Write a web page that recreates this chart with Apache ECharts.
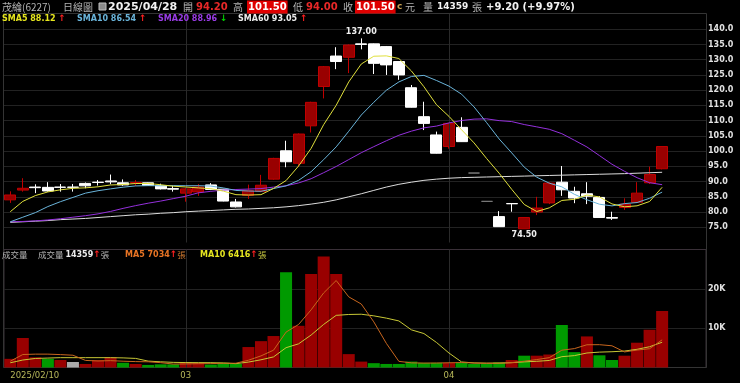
<!DOCTYPE html>
<html><head><meta charset="utf-8">
<script src="https://cdn.jsdelivr.net/npm/echarts@6/dist/echarts.min.js"></script>
<style>html,body{margin:0;padding:0;background:#000;}#c{width:740px;height:383px;}</style>
</head><body><div id="c"></div>
<script>
// ---------------- data ----------------
const dates = [
 '2025/02/10','2025/02/11','2025/02/12','2025/02/13','2025/02/14','2025/02/17','2025/02/18','2025/02/19','2025/02/20','2025/02/21',
 '2025/02/24','2025/02/25','2025/02/26','2025/02/27',
 '2025/03/03','2025/03/04','2025/03/05','2025/03/06','2025/03/07','2025/03/10','2025/03/11','2025/03/12','2025/03/13','2025/03/14',
 '2025/03/17','2025/03/18','2025/03/19','2025/03/20','2025/03/21','2025/03/24','2025/03/25','2025/03/26','2025/03/27','2025/03/28','2025/03/31',
 '2025/04/01','2025/04/02','2025/04/07','2025/04/08','2025/04/09','2025/04/10','2025/04/11','2025/04/14','2025/04/15','2025/04/16',
 '2025/04/17','2025/04/18','2025/04/21','2025/04/22','2025/04/23','2025/04/24','2025/04/25','2025/04/28'];
const opens  = [84.0,87.2,88.2,88.1,88.2,88.2,89.4,89.8,90.2,89.6, 89.5,89.6,88.7,87.7, 86.2,86.6,88.9,87.5,83.3,85.5,86.8,90.8,100.1,96.0,
 108.3,121.2,131.2,130.8,135.2,135.2,134.3,129.4,120.8,111.3,105.3, 101.5,107.8,92.8,83.5,78.5,82.8,74.5,80.0,83.0,89.8,
 86.8,86.0,84.8,78.2,81.5,83.2,89.6,94.2];
const closes = [85.6,87.8,88.0,86.9,88.1,88.1,88.6,89.7,89.9,88.9, 89.7,88.7,87.6,87.5, 87.6,88.2,87.4,83.6,81.7,87.0,88.8,97.6,96.5,105.6,
 116.0,127.7,129.4,134.8,135.0,128.8,128.3,125.0,114.4,109.1,99.3, 109.1,103.1,92.8,83.5,75.2,82.7,78.2,81.3,89.5,87.3,
 84.6,85.2,78.2,78.0,82.6,86.2,92.3,101.5];
const lows   = [83.0,86.7,86.2,86.7,86.7,86.7,87.8,88.7,89.1,88.6, 88.6,88.6,87.4,86.7, 83.4,85.3,87.2,83.5,81.5,84.3,86.5,90.6,94.7,94.9,
 106.1,117.3,126.9,125.6,133.4,125.3,125.0,123.4,114.3,106.9,99.2, 100.8,103.0,92.8,83.5,75.2,80.1,74.5,79.0,82.6,85.3,
 82.9,82.6,78.1,77.4,80.7,83.0,89.2,94.0];
const highs  = [86.8,91.1,89.1,89.8,89.2,89.2,89.7,90.5,92.3,90.7, 90.5,89.7,89.3,88.6, 88.0,89.2,89.5,87.6,84.3,89.0,92.2,97.8,103.4,105.8,
 116.2,127.9,134.1,135.0,137.0,135.3,134.5,129.5,121.7,116.2,106.4, 109.2,111.1,92.8,83.5,80.3,82.8,78.3,85.0,89.8,95.1,
 88.3,89.8,85.2,80.1,84.5,89.8,94.9,101.5];
const volumes = [2200,7500,2600,2200,1900,1400,900,1900,2600,1200, 900,650,800,800, 1400,1200,750,1200,900,5200,6700,8000,24200,10600,
 23800,28200,23800,3400,1500,1100,900,900,1500,1200,1200, 1200,1200,900,900,1300,1900,3000,3000,3300,10800,
 3900,7900,3100,1900,3000,6300,9600,14359];
const sma60 = [76.6,76.8,77.0,77.2,77.5,77.7,77.9,78.2,78.5,78.8, 79.1,79.3,79.6,79.8, 80.1,80.3,80.5,80.7,80.9,81.0,81.2,81.4,81.7,82.1,
 82.6,83.2,84.0,85.0,86.0,87.1,88.2,89.1,89.8,90.4,90.8, 91.1,91.3,91.4,91.5,91.6,91.7,91.8,91.9,92.0,92.1,
 92.2,92.3,92.4,92.5,92.6,92.75,92.9,93.05];
// moving-average values before a full window exists
const sma5Lead  = [80.1,83.5,85.4,86.6];
const sma10Lead = [76.8,78.3,79.8,81.8,83.4,84.8,86.2,87.0,87.6];
const sma20Lead = [76.8,76.9,77.1,77.4,77.8,78.3,78.8,79.4,80.2,81.2,82.1,82.9,83.6,84.4,85.2,86.3,86.8,87.2,87.4];
const volMa5Lead  = [1600,3300,3400,3400];
const volMa10Lead = [1200,1900,2300,2400,2500,2500,2500,2500,2500];
const priceLabelRange = [75, 140];
const volTickLabels = {10000:'10K', 20000:'20K'};
const quote = {name:'茂綸(6227)', date:'2025/04/28', open:'94.20', high:'101.50', low:'94.00', close:'101.50', vol:'14359', chg:'+9.20 (+9.97%)'};
const legendVals = {sma5:'88.12', sma10:'86.54', sma20:'88.96', sma60:'93.05', volMa5:'7034', volMa10:'6416'};

// ---------------- helpers ----------------
function sma(vals, n, lead) {
  return vals.map((v, i) => {
    if (i < n - 1) return lead[i];
    let s = 0; for (let k = i - n + 1; k <= i; k++) s += vals[k];
    return +(s / n).toFixed(2);
  });
}
const ma5 = sma(closes, 5, sma5Lead), ma10 = sma(closes, 10, sma10Lead), ma20 = sma(closes, 20, sma20Lead);
const vma5 = sma(volumes, 5, volMa5Lead), vma10 = sma(volumes, 10, volMa10Lead);
const cats = dates.concat([' ', '  ', '   ']);
const monthStarts = dates.filter((d, i) => i > 0 && d.slice(5,7) !== dates[i-1].slice(5,7));

const UP = '#990000', UPB = '#c00000', DOWN = '#ffffff';
const candleData = dates.map((d, i) => {
  const item = {value: [opens[i], closes[i], lows[i], highs[i]]};
  if (highs[i] === lows[i]) item.itemStyle = {color:'#7a7a7a', borderColor:'#7a7a7a', color0:'#7a7a7a', borderColor0:'#7a7a7a'};
  return item;
});
const volData = volumes.map((v, i) => {
  let c = UP;
  if (i > 0) c = closes[i] > closes[i-1] ? UP : (closes[i] < closes[i-1] ? '#009a00' : '#aaaaaa');
  return {value: v, itemStyle: {color: c}};
});

const NUM = '"DejaVu Sans", Verdana, sans-serif';
const CJK = '"Noto Sans CJK TC", "Noto Sans CJK SC", sans-serif';
const grey = '#b4b4b4';
function T(x, y, text, fill, font, extra) {
  return {type:'text', x:x, y:y, silent:true, z:100,
    style: Object.assign({text:text, fill:fill, font:font, verticalAlign:'middle', align:'left'}, extra || {})};
}
const legendRich = {
  y:{fill:'#e6e61e', font:'bold 8px '+NUM}, b:{fill:'#6ab4da', font:'bold 8px '+NUM},
  p:{fill:'#9a3ce6', font:'bold 8px '+NUM}, w:{fill:'#ececec', font:'bold 8px '+NUM},
  u:{fill:'#ff2020', font:'bold 9px '+NUM}, d:{fill:'#00d000', font:'bold 9px '+NUM},
  o:{fill:'#e87424', font:'bold 8px '+NUM}, yy:{fill:'#e6e620', font:'bold 8px '+NUM},
  g:{fill:grey, font:'8.5px '+CJK}, go:{fill:'#d07a30', font:'8.5px '+CJK}, gy:{fill:'#c8c840', font:'8.5px '+CJK}
};
const hy = 7, ly = 18.5, vy = 255;
const graphics = [
  {type:'rect', silent:true, z:1, shape:{x:3.5, y:13.5, width:703, height:354}, style:{fill:'none', stroke:'#343434', lineWidth:1}},
  T(2, hy, quote.name, grey, '10px '+CJK),
  T(63, hy, '日線圖', grey, '10px '+CJK),
  {type:'rect', silent:true, z:100, shape:{x:99, y:3, width:7, height:7}, style:{fill:'#8a8a8a', stroke:'#c0c0c0', lineWidth:1}},
  T(108, hy, quote.date, '#f2f2f2', 'bold 11px '+NUM),
  T(183, hy, '開', grey, '10px '+CJK),
  T(196, hy, quote.open, '#e82828', 'bold 10px '+NUM),
  T(233, hy, '高', grey, '10px '+CJK),
  T(247, hy, quote.high, '#ffffff', 'bold 10px '+NUM, {backgroundColor:'#e00000', padding:[2,1,1,1]}),
  T(293, hy, '低', grey, '10px '+CJK),
  T(306, hy, quote.low, '#e82828', 'bold 10px '+NUM),
  T(343, hy, '收', grey, '10px '+CJK),
  T(355, hy, quote.close, '#ffffff', 'bold 10px '+NUM, {backgroundColor:'#e00000', padding:[2,1,1,1]}),
  T(397, hy, 'c', '#c8a050', 'bold 9px '+NUM),
  T(405, hy, '元', grey, '10px '+CJK),
  T(423, hy, '量', grey, '10px '+CJK),
  T(437, hy, quote.vol, '#f2f2f2', 'bold 9px '+NUM),
  T(472, hy, '張', grey, '10px '+CJK),
  T(486, hy, quote.chg, '#f2f2f2', 'bold 10px '+NUM),
  T(2, ly, '{y|SMA5 '+legendVals.sma5+' }{u|↑}', '#fff', 'bold 8px '+NUM, {rich:legendRich}),
  T(77, ly, '{b|SMA10 '+legendVals.sma10+' }{u|↑}', '#fff', 'bold 8px '+NUM, {rich:legendRich}),
  T(158, ly, '{p|SMA20 '+legendVals.sma20+' }{d|↓}', '#fff', 'bold 8px '+NUM, {rich:legendRich}),
  T(238, ly, '{w|SMA60 '+legendVals.sma60+' }{u|↑}', '#fff', 'bold 8px '+NUM, {rich:legendRich}),
  T(2, vy, '成交量', grey, '8.5px '+CJK),
  T(38, vy, '{g|成交量 }{w|'+quote.vol+'}{u|↑}{g|張}', '#fff', 'bold 8px '+NUM, {rich:legendRich}),
  T(125, vy, '{o|MA5 '+legendVals.volMa5+'}{u|↑}{go|張}', '#fff', 'bold 8px '+NUM, {rich:legendRich}),
  T(200, vy, '{yy|MA10 '+legendVals.volMa10+'}{u|↑}{gy|張}', '#fff', 'bold 8px '+NUM, {rich:legendRich})
];

const gridLine = '#222222';
const monthLine = {silent:true, symbol:['none','none'], label:{show:false}, animation:false,
  lineStyle:{color:'#2a2a2a', type:'solid', width:1}, data: monthStarts.map(d => ({xAxis:d}))};
function lineSeries(name, data, color, xi, yi, z) {
  return {name:name, type:'line', data:data, xAxisIndex:xi, yAxisIndex:yi, symbol:'none', smooth:false,
    lineStyle:{color:color, width:1}, z:z, silent:true};
}

const option = {
  backgroundColor:'#000',
  animation:false,
  grid:[
    {left:4, right:34, top:14, height:228.5, show:false},
    {left:4, right:34, top:249.5, height:118, show:true, borderColor:'#3a3038', borderWidth:1, backgroundColor:'transparent'}
  ],
  xAxis:[
    {type:'category', gridIndex:0, data:cats, boundaryGap:true, axisLine:{show:false}, axisTick:{show:false},
      axisLabel:{show:false}, splitLine:{show:false}},
    {type:'category', gridIndex:1, data:cats, boundaryGap:true, axisLine:{show:false}, axisTick:{show:false},
      splitLine:{show:false},
      axisLabel:{show:true, color:'#b8b85a', fontFamily:NUM, fontSize:8.5, margin:4, alignMinLabel:'left',
        interval:(i) => i === 0 || monthStarts.indexOf(cats[i]) >= 0,
        formatter:(v, i) => i === 0 ? v : v.slice(5,7)}}
  ],
  yAxis:[
    {type:'value', gridIndex:0, position:'right', min:70, max:145, interval:5, scale:true,
      axisLine:{show:false}, axisTick:{show:false},
      splitLine:{show:true, showMinLine:false, showMaxLine:false, lineStyle:{color:gridLine, width:1}},
      axisLabel:{show:true, margin:2, color:'#e2e2e2', fontFamily:NUM, fontWeight:'bold', fontSize:8,
        formatter:(v) => (v >= priceLabelRange[0] && v <= priceLabelRange[1]) ? v.toFixed(1) : ''}},
    {type:'value', gridIndex:1, position:'right', min:0, max:30000, interval:10000,
      axisLine:{show:false}, axisTick:{show:false},
      splitLine:{show:true, showMinLine:false, showMaxLine:false, lineStyle:{color:gridLine, width:1}},
      axisLabel:{show:true, margin:2, color:'#e2e2e2', fontFamily:NUM, fontWeight:'bold', fontSize:8,
        formatter:(v) => volTickLabels[v] || ''}}
  ],
  series:[
    {name:'K', type:'candlestick', xAxisIndex:0, yAxisIndex:0, data:candleData, barWidth:11.5, z:2, silent:true,
      itemStyle:{color:UP, color0:DOWN, borderColor:UPB, borderColor0:DOWN, borderWidth:1},
      markLine: monthLine,
      markPoint:{symbol:'circle', symbolSize:1, itemStyle:{color:'rgba(0,0,0,0)'}, silent:true, animation:false,
        label:{show:true, color:'#f0f0f0', fontFamily:NUM, fontWeight:'bold', fontSize:8,
          formatter:(p) => Number(p.value).toFixed(2)},
        data:[
          {type:'max', valueDim:'highest', label:{position:'inside', offset:[0,-6]}},
          {type:'min', valueDim:'lowest', label:{position:'inside', offset:[0,6]}}
        ]}},
    lineSeries('SMA60', sma60, '#dcdcdc', 0, 0, 5),
    lineSeries('SMA20', ma20, '#9430dc', 0, 0, 6),
    lineSeries('SMA10', ma10, '#6ab4da', 0, 0, 7),
    lineSeries('SMA5', ma5, '#e0e03c', 0, 0, 8),
    {name:'VOL', type:'bar', xAxisIndex:1, yAxisIndex:1, data:volData, barWidth:12, z:2, silent:true,
      markLine: monthLine},
    lineSeries('VMA10', vma10, '#c8c836', 1, 1, 6),
    lineSeries('VMA5', vma5, '#c8661e', 1, 1, 7)
  ],
  graphic: graphics
};
const chart = echarts.init(document.getElementById('c'));
chart.setOption(option);
</script></body></html>
